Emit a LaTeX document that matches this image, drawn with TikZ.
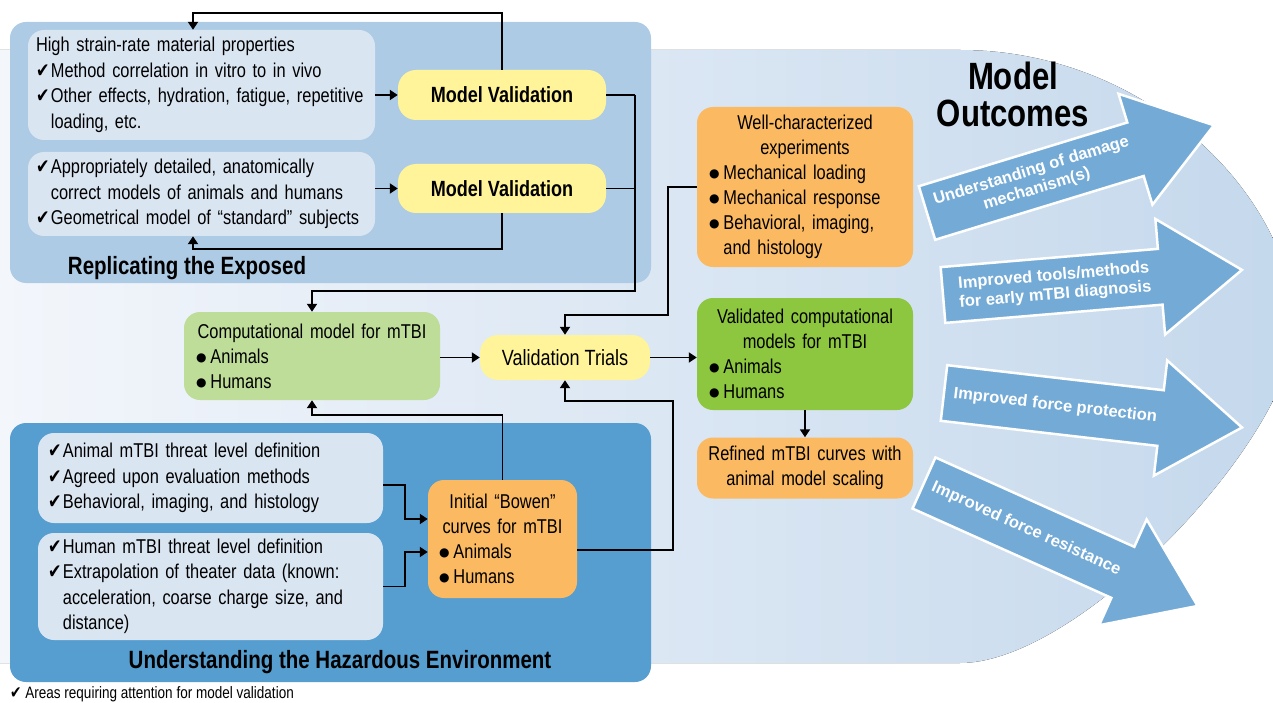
\documentclass[tikz,border=0pt]{standalone}
\usepackage{fontspec}
\setmainfont[FakeStretch=0.82]{Liberation Sans}
\newfontfamily\wideface{Liberation Sans}
\newfontfamily\tickface[FakeStretch=0.8]{DejaVu Sans}
\newfontfamily\dotface{DejaVu Sans}
\usetikzlibrary{arrows.meta}
\hyphenpenalty=10000
\definecolor{bgleft}{RGB}{243,246,251}
\definecolor{bgright}{RGB}{196,216,236}
\definecolor{panelpale}{RGB}{173,203,229}
\definecolor{panelblue}{RGB}{86,158,208}
\definecolor{notefill}{RGB}{218,229,242}
\definecolor{pillyellow}{RGB}{255,244,153}
\definecolor{paleleaf}{RGB}{190,221,153}
\definecolor{leaf}{RGB}{141,198,63}
\definecolor{apricot}{RGB}{251,185,98}
\definecolor{arrowblue}{RGB}{116,170,214}
\newcommand\okmark{{\tickface\fontsize{20}{20}\selectfont ✔}\hspace{1.5pt}}
\newcommand\dotmark{\raisebox{2pt}{\dotface\fontsize{12}{12}\selectfont ●}\hspace{4pt}}
\def\outcomearrow[#1](#2)(#3)#4{%
  \begin{scope}[shift={(#2)}, rotate=#3]
    \draw[outshape] (0,-28) -- (218,-28) -- (218,-58) -- (300,0) -- (218,58) -- (218,28) -- (0,28) -- cycle;
    \node[outtext] (#1) at (112,0) {#4};
  \end{scope}}

\begin{document}
\begin{tikzpicture}[x=1pt,y=-1pt,
    note/.style={rounded corners=16pt, fill=notefill, align=left, inner xsep=10pt, inner ysep=0pt, font=\fontsize{20}{25.5}\selectfont},
    card/.style={rounded corners=16pt, align=left, inner xsep=12pt, inner ysep=0pt, font=\fontsize{20}{25}\selectfont},
    pill/.style={rounded corners=18pt, fill=pillyellow, align=center, inner sep=0pt, font=\bfseries\fontsize{22}{25}\selectfont},
    title/.style={inner sep=0pt, font=\bfseries\fontsize{25}{28}\selectfont},
    link/.style={line width=1.8pt, -{Triangle[length=8pt,width=10pt]}},
    plain/.style={line width=1.8pt},
    outshape/.style={fill=arrowblue, draw=white, line width=2.5pt},
    outtext/.style={text=white, align=center, inner sep=0pt, transform shape, font=\wideface\bfseries\fontsize{16.5}{19}\selectfont}]
    %%%%% START %%%%%
    \useasboundingbox (0,0) rectangle (1273,703);
    
    \fill[left color=bgleft, right color=bgright] (0,50) -- (960,50) .. controls (1150,50) and (1295,200) .. (1295,330) .. controls (1290,440) and (1080,663) .. (960,663) -- (0,663) -- cycle;
    
    \fill[panelpale, rounded corners=16pt] (10,22) rectangle (651,283);
    \fill[panelblue, rounded corners=16pt] (10,423) rectangle (651,682);
    
    \node[note, text width=331pt, inner xsep=8pt, minimum height=110pt] (strain) at (201.5,85) {High strain-rate material properties\\ \okmark Method correlation in vitro to in vivo\\ \okmark Other effects, hydration, fatigue, repetitive\\ \phantom{\okmark}loading, etc.};
    \node[note, text width=331pt, inner xsep=8pt, minimum height=84pt] (anat) at (201.5,194) {\okmark Appropriately detailed, anatomically\\ \phantom{\okmark}correct models of animals and humans\\ \okmark Geometrical model of “standard” subjects};
    \node[pill, minimum width=208pt, minimum height=50pt] (mv1) at (502,95) {Model Validation};
    \node[pill, minimum width=208pt, minimum height=49pt] (mv2) at (502,188.5) {Model Validation};
    \node[title] (exposed) at (187,268) {Replicating the Exposed};
    
    \node[note, text width=325pt, minimum height=90pt] (threat) at (210.5,478) {\okmark Animal mTBI threat level definition\\ \okmark Agreed upon evaluation methods\\ \okmark Behavioral, imaging, and histology};
    \node[note, text width=325pt, minimum height=107pt] (human) at (210.5,586.5) {\okmark Human mTBI threat level definition\\ \okmark Extrapolation of theater data (known:\\ \phantom{\okmark}acceleration, coarse charge size, and\\ \phantom{\okmark}distance)};
    \node[card, fill=apricot, text width=127pt, inner xsep=11pt, minimum height=118pt] (bowen) at (502.5,539) {\makebox[\linewidth]{Initial “Bowen”}\\ \makebox[\linewidth]{curves for mTBI}\\ \dotmark Animals\\ \dotmark Humans};
    \node[title] (hazard) at (340,662) {Understanding the Hazardous Environment};
    
    \node[card, fill=paleleaf, text width=232pt, minimum height=88pt] (comp) at (312,356) {\makebox[\linewidth]{Computational model for mTBI}\\ \dotmark Animals\\ \dotmark Humans};
    \node[pill, font=\fontsize{22}{26}\selectfont, minimum width=170pt, minimum height=45pt] (trials) at (565,357.5) {Validation Trials};
    \node[card, fill=apricot, text width=192pt, minimum height=160pt] (wellchar) at (805,187) {\makebox[\linewidth]{Well-characterized}\\ \makebox[\linewidth]{experiments}\\ \dotmark Mechanical loading\\ \dotmark Mechanical response\\ \dotmark Behavioral, imaging,\\ \phantom{\dotmark}and histology};
    \node[card, fill=leaf, text width=192pt, minimum height=112pt] (validated) at (805,354) {\makebox[\linewidth]{Validated computational}\\ \makebox[\linewidth]{models for mTBI}\\ \dotmark Animals\\ \dotmark Humans};
    \node[card, fill=apricot, align=center, inner xsep=2pt, text width=212pt, minimum height=61pt] (refined) at (805,468) {Refined mTBI curves with\\ animal model scaling};
    
    % connectors
    \draw[link] (strain.east |- mv1.west) -- (mv1.west);
    \draw[link] (anat.east |- mv2.west) -- (mv2.west);
    \draw[link] (mv1.north) -- ++(0,-57) -| ([xshift=-8.5pt]strain.north);
    \draw[link] (mv2.south) -- ++(0,36) -| ([xshift=-8.5pt]anat.south);
    \draw[plain] (mv1.east) -- ++(29,0) coordinate (mvjoin);
    \draw[plain] (mv2.east) -- (mv2.east -| mvjoin);
    \draw[link] (mvjoin) |- ([yshift=21pt]comp.north) -- (comp.north);
    \draw[link] (wellchar.west) -- ++(-29,0) |- ([yshift=20pt]trials.north) -- (trials.north);
    \draw[link] (comp.east |- trials.west) -- (trials.west);
    \draw[link] (trials.east) -- (trials.east -| validated.west);
    \draw[link] (validated.south) -- (refined.north);
    \draw[link] ([yshift=-11pt]bowen.east) -- ++(96,0) |- ([yshift=-21pt]trials.south) -- (trials.south);
    \draw[link] (bowen.north) |- ([yshift=-15pt]comp.south) -- (comp.south);
    \draw[link] ([yshift=-7pt]threat.east) -- ++(22,0) |- ([yshift=20pt]bowen.west);
    \draw[link] (human.east) -- ++(22,0) |- ([yshift=-13pt]bowen.west);
    
    % outcomes
    \node[align=center, inner sep=0pt, font=\bfseries\fontsize{38}{37}\selectfont] (outcomes) at (1013,94) {Model\\Outcomes};
    \outcomearrow[damage](927,213)(17){Understanding of damage\\mechanism(s)}
    \outcomearrow[diagnosis](943,295)(4.8){Improved tools/methods\\for early mTBI diagnosis}
    \outcomearrow[protection](944,393)(-6.6){Improved force protection}
    \outcomearrow[resistance](924,483)(-24.2){Improved force resistance}
    
    \node[anchor=west, inner sep=0pt, font=\fontsize{16.5}{16.5}\selectfont] (legend) at (10,694) {{\tickface\fontsize{17}{17}\selectfont ✔}\ Areas requiring attention for model validation};
    %%%%% END %%%%%
\end{tikzpicture}
\end{document}
